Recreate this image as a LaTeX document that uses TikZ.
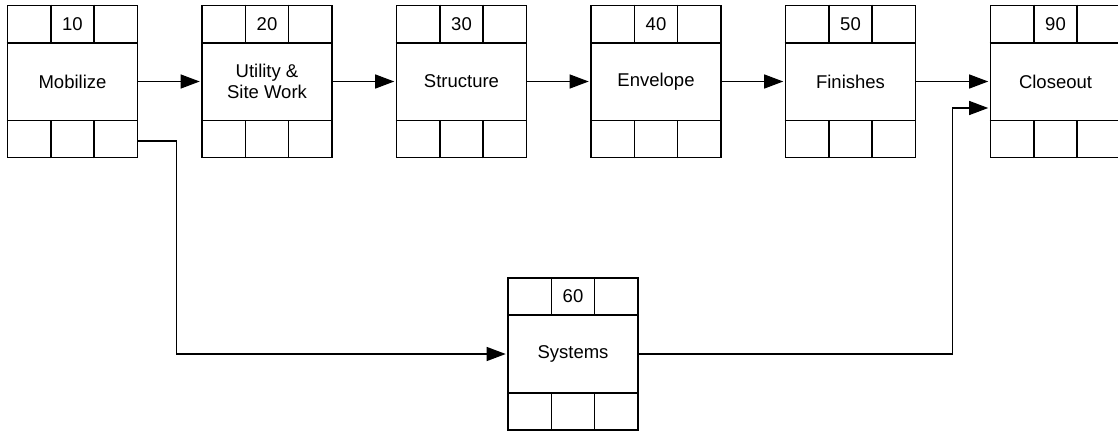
\documentclass[tikz,border=0pt]{standalone}
\usepackage{fontspec}
\setmainfont{Liberation Sans}
\usetikzlibrary{calc,arrows.meta}
\tikzset{
  actbox/.style={draw, line width=1.6pt, minimum width=130pt, minimum height=152pt,
    inner sep=0pt, align=center, font=\fontsize{18.5}{21.5}\selectfont},
  grid/.style={line width=1.6pt},
  numtext/.style={inner sep=0pt, font=\fontsize{18.5}{21.5}\selectfont},
  flow/.style={line width=1.2pt, -{Triangle[length=19pt,width=14pt]}, shorten >=1.5pt}
}
\newcommand\actbox[4]{%
  \node[actbox] (#1) at (#2) {#4};
  \draw[grid] ($(#1.north west)+(0,38)$) -- ($(#1.north east)+(0,38)$);
  \draw[grid] ($(#1.south west)+(0,-38)$) -- ($(#1.south east)+(0,-38)$);
  \draw[grid] ($(#1.north)+(-21.67,0)$) -- ++(0,38);
  \draw[grid] ($(#1.north)+(21.67,0)$) -- ++(0,38);
  \draw[grid] ($(#1.south)+(-21.67,0)$) -- ++(0,-38);
  \draw[grid] ($(#1.south)+(21.67,0)$) -- ++(0,-38);
  \node[numtext] (#1n) at ($(#1.north)+(0,19)$) {#3};
}
\begin{document}
\begin{tikzpicture}[x=1pt,y=-1pt]
  \useasboundingbox (0,0) rectangle (1118,431);
  \clip (0,0) rectangle (1118,431);
  \fill[white] (0,0) rectangle (1118,431);
  \actbox{mob}{72.5,81.5}{10}{Mobilize}
  \actbox{util}{267,81.5}{20}{Utility \&\\Site Work}
  \actbox{str}{461.5,81.5}{30}{Structure}
  \actbox{env}{656,81.5}{40}{Envelope}
  \actbox{fin}{850.5,81.5}{50}{Finishes}
  \actbox{close}{1055.5,81.5}{90}{Closeout}
  \actbox{sys}{573,354}{60}{Systems}
  \draw[flow] (mob) -- (util);
  \draw[flow] (util) -- (str);
  \draw[flow] (str) -- (env);
  \draw[flow] (env) -- (fin);
  \draw[flow] (fin) -- (close);
  \coordinate (mout) at ($(mob.east)+(0,59.5)$);
  \draw[flow] (mout) -- ++(38,0) |- (sys.west);
  \coordinate (cin) at ($(close.west)+(0,26.5)$);
  \draw[flow] (sys.east) -| ($(cin)+(-37.5,0)$) -- (cin);
\end{tikzpicture}
\end{document}
